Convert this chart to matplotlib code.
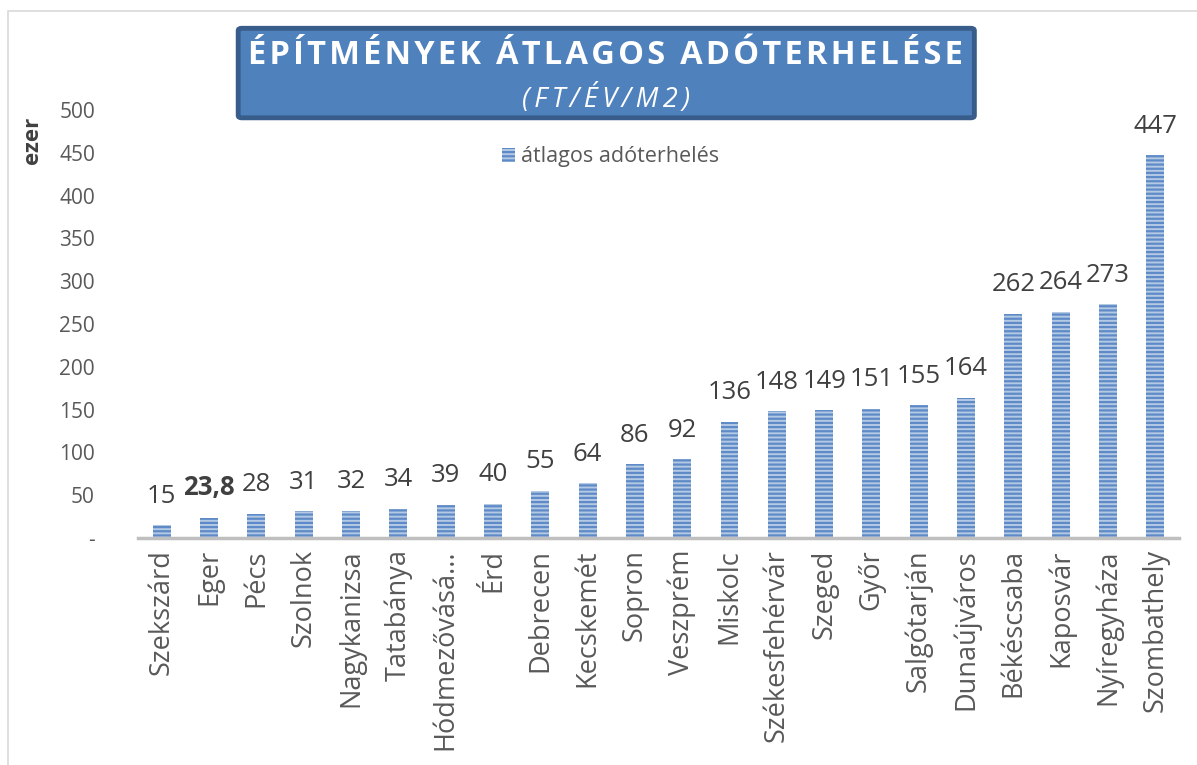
import matplotlib.pyplot as plt
from matplotlib.patches import FancyBboxPatch, Rectangle

plt.rcParams['font.family'] = ['Open Sans', 'DejaVu Sans']
plt.rcParams['hatch.linewidth'] = 1.6

cities = ['Szekszárd', 'Eger', 'Pécs', 'Szolnok', 'Nagykanizsa', 'Tatabánya',
          'Hódmezővásá...', 'Érd', 'Debrecen', 'Kecskemét', 'Sopron', 'Veszprém',
          'Miskolc', 'Székesfehérvár', 'Szeged', 'Győr', 'Salgótarján',
          'Dunaújváros', 'Békéscsaba', 'Kaposvár', 'Nyíregyháza', 'Szombathely']
values = [15, 23.8, 28, 31, 32, 34, 39, 40, 55, 64, 86, 92, 136, 148, 149, 151,
          155, 164, 262, 264, 273, 447]
value_labels = ['15', '23,8', '28', '31', '32', '34', '39', '40', '55', '64', '86',
                '92', '136', '148', '149', '151', '155', '164', '262', '264', '273', '447']
yticks = [0, 50, 100, 150, 200, 250, 300, 350, 400, 450, 500]
ytick_labels = ['-', '50', '100', '150', '200', '250', '300', '350', '400', '450', '500']

fig = plt.figure(figsize=(11.97, 7.65), dpi=100)
ax = fig.add_axes([0.1153, 0.2967, 0.8697, 0.5595])

x = range(len(cities))
bars = ax.bar(x, values, width=0.38, color='#B4C9E4', edgecolor='#5E8AC7',
              linewidth=0, hatch='----', label='átlagos adóterhelés')

for i, (v, lab) in enumerate(zip(values, value_labels)):
    ax.annotate(lab, (i, v), xytext=(0, 12), textcoords='offset points',
                ha='center', va='bottom', fontsize=18.5, color='#404040',
                fontweight='bold' if lab == '23,8' else 'normal')

ax.set_xlim(-0.5, len(cities) - 0.5)
ax.set_ylim(0, 500)
ax.set_yticks(yticks)
ax.set_yticklabels(ytick_labels)
ax.set_xticks(list(x))
ax.set_xticklabels(cities, rotation=90)
ax.tick_params(axis='y', length=0, labelsize=15, labelcolor='#595959', pad=31)
ax.tick_params(axis='x', length=0, labelsize=19.5, labelcolor='#595959', pad=8)
for s in ['top', 'right', 'left']:
    ax.spines[s].set_visible(False)
ax.spines['bottom'].set_color('#BFBFBF')
ax.spines['bottom'].set_linewidth(2.5)

fig.text(0.027, 0.817, 'ezer', rotation=90, fontsize=16, fontweight='bold',
         color='#404040', ha='center', va='center')

leg = fig.legend(handles=[bars], loc='center', bbox_to_anchor=(0.51, 0.795),
                 frameon=False, fontsize=15.5, handlelength=0.6, handleheight=0.6,
                 handletextpad=0.3)
for t in leg.get_texts():
    t.set_color('#595959')

# title box
box = FancyBboxPatch((0.199, 0.846), 0.615, 0.117, boxstyle='round,pad=0,rounding_size=0.003',
                     transform=fig.transFigure, facecolor='#4F81BD', edgecolor='#385D8A',
                     linewidth=3.5, zorder=5)
fig.patches.append(box)
title = 'ÉPÍTMÉNYEK ÁTLAGOS ADÓTERHELÉSE'
fig.text(0.506, 0.927, '\u200a'.join(title), fontsize=23.5, fontweight='bold',
         color='white', ha='center', va='center', zorder=6,
         family=['Open Sans', 'DejaVu Sans'])
fig.text(0.506, 0.871, '\u2009'.join('(FT/ÉV/M2)'), fontsize=19.5, style='italic',
         color='white', ha='center', va='center', zorder=6,
         family=['Open Sans', 'DejaVu Sans'])

# outer chart border
fig.patches.append(Rectangle((0.007, -0.01), 1.0, 0.995, transform=fig.transFigure,
                             fill=False, edgecolor='#D9D9D9', linewidth=1.2))

fig.savefig('out.png', dpi=100)
